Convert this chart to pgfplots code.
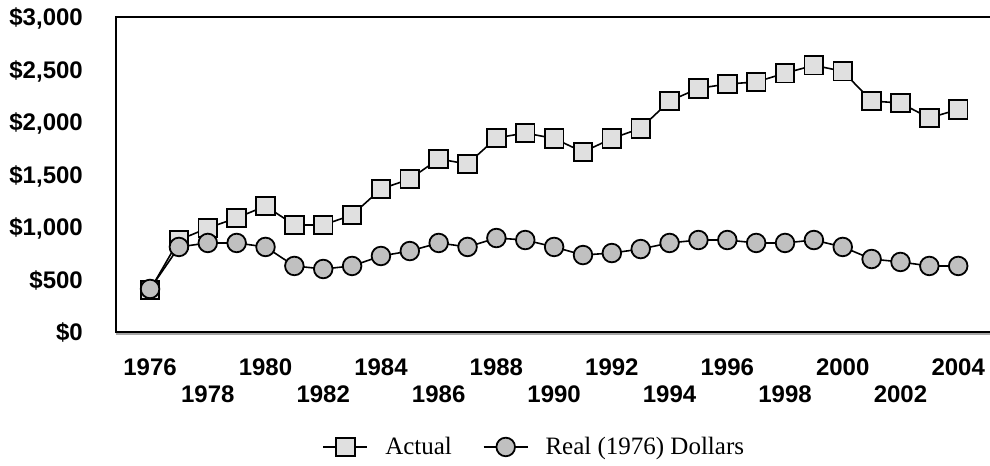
\documentclass[border=0pt]{standalone}
\usepackage{pgfplots}
\pgfplotsset{compat=1.18}
\usepackage{fontspec}
\setmainfont{Liberation Serif}
\setsansfont{Liberation Sans}
\definecolor{sqfill}{HTML}{E0E0E0}
\definecolor{cifill}{HTML}{C0C0C0}
\begin{document}
\begin{tikzpicture}
\begin{axis}[
  at={(116bp,134bp)}, anchor=south west,
  scale only axis,
  width=880bp, height=315bp,
  xmin=1974.82, xmax=2005.31,
  ymin=0, ymax=3000,
  axis line style={line width=2bp, black},
  major tick length=0pt,
  tick style={draw=none},
  ytick={0,500,1000,1500,2000,2500,3000},
  yticklabels={\$0,\$500,{\$1,000},{\$1,500},{\$2,000},{\$2,500},{\$3,000}},
  xtick={1976,1980,1984,1988,1992,1996,2000,2004},
  xticklabels={1976,1980,1984,1988,1992,1996,2000,2004},
  extra x ticks={1978,1982,1986,1990,1994,1998,2002},
  extra x tick labels={1978,1982,1986,1990,1994,1998,2002},
  extra x tick style={xticklabel style={yshift=-27bp}},
  ticklabel style={font=\sffamily\bfseries\fontsize{24bp}{28bp}\selectfont, inner sep=0pt},
  xticklabel style={anchor=north, yshift=-27bp},
  yticklabel style={anchor=base east, xshift=-33bp, yshift=-8.5bp},
  legend columns=2,
  legend style={at={(0.476,-0.365)}, anchor=center, draw=none, fill=none,
    font=\rmfamily\fontsize{25bp}{29bp}\selectfont,
    /tikz/every odd column/.append style={column sep=14bp},
    /tikz/every even column/.append style={column sep=28bp},
    nodes={inner sep=3bp}},
  legend image code/.code={\draw[#1,mark repeat=2,mark phase=2] plot coordinates {(0bp,0bp) (22bp,0bp) (44bp,0bp)};},
  clip=false,
]
\addplot[black, line width=1.6bp, mark=square*, mark size=9.3bp,
  mark options={fill=sqfill, draw=black, line width=1.8bp}] coordinates {
(1976,400) (1977,876) (1978,990) (1979,1086) (1980,1200) (1981,1019) (1982,1019)
(1983,1114) (1984,1362) (1985,1457) (1986,1648) (1987,1600) (1988,1848) (1989,1895)
(1990,1843) (1991,1714) (1992,1843) (1993,1940) (1994,2200) (1995,2320) (1996,2362)
(1997,2381) (1998,2465) (1999,2540) (2000,2483) (2001,2200) (2002,2181) (2003,2038)
(2004,2120)
};
\addlegendentry{Actual}
\addplot[black, line width=1.6bp, mark=*, mark size=9.3bp,
  mark options={fill=cifill, draw=black, line width=1.8bp}] coordinates {
(1976,410) (1977,810) (1978,848) (1979,848) (1980,810) (1981,629) (1982,600)
(1983,629) (1984,724) (1985,771) (1986,848) (1987,810) (1988,895) (1989,876)
(1990,810) (1991,733) (1992,752) (1993,790) (1994,848) (1995,876) (1996,876)
(1997,848) (1998,848) (1999,876) (2000,810) (2001,695) (2002,667) (2003,629)
(2004,629)
};
\addlegendentry{Real (1976) Dollars}
\draw[gray!70, line width=2bp] ([yshift=-2bp]rel axis cs:0,0) -- ([yshift=-2bp]rel axis cs:1,0);
\end{axis}
\pgfresetboundingbox
\path[use as bounding box] (0,0) rectangle (990bp,466bp);
\end{tikzpicture}
\end{document}
